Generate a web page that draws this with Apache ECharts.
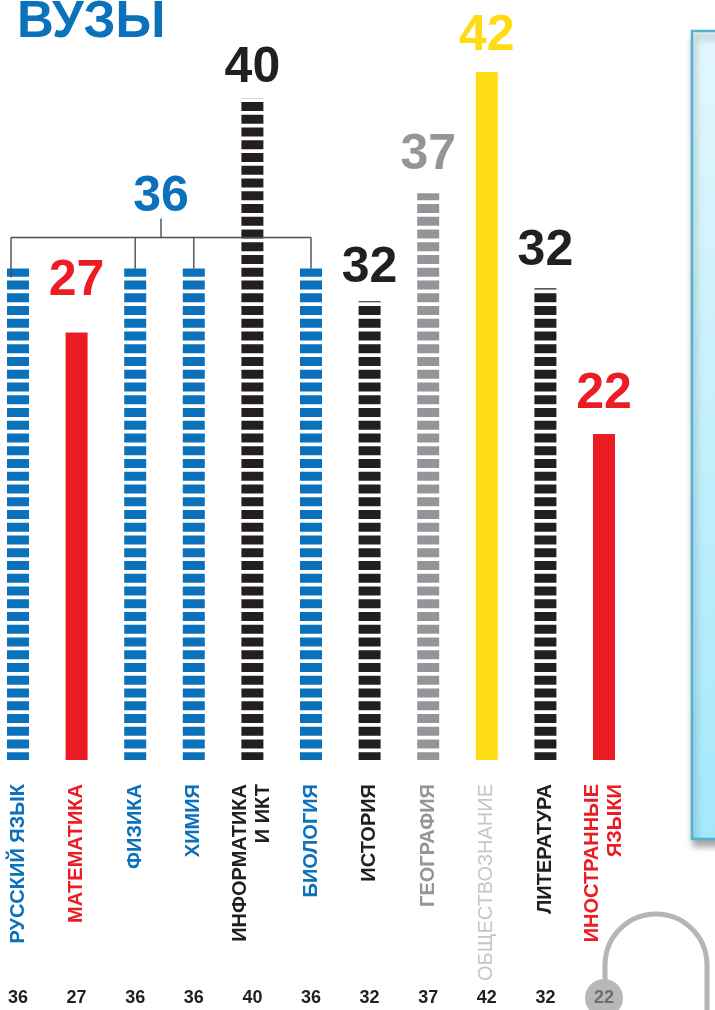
<!DOCTYPE html>
<html>
<head>
<meta charset="utf-8">
<title>ВУЗЫ</title>
<script src="https://cdn.jsdelivr.net/npm/echarts@6/dist/echarts.min.js"></script>
<style>
  html, body { margin: 0; padding: 0; background: #fff; }
  #chart { width: 715px; height: 1010px; }
</style>
</head>
<body>
<div id="chart"></div>
<script>
// subjects, as printed under the bars
const subjects = ['РУССКИЙ ЯЗЫК', 'МАТЕМАТИКА', 'ФИЗИКА', 'ХИМИЯ', 'ИНФОРМАТИКА\nИ ИКТ', 'БИОЛОГИЯ',
  'ИСТОРИЯ', 'ГЕОГРАФИЯ', 'ОБЩЕСТВОЗНАНИЕ', 'ЛИТЕРАТУРА', 'ИНОСТРАННЫЕ\nЯЗЫКИ'];
// minimum scores printed on the chart
const scores = [36, 27, 36, 36, 40, 36, 32, 37, 42, 32, 22];
// bar length as drawn (the infographic is not to scale)
const barLengths = [30, 26.1, 30, 30, 40.4, 30, 28, 34.6, 42, 28.8, 19.9];
// bars sharing one bracketed score
const groupIdx = [0, 2, 3, 5];
const groupScore = 36;
// score in the grey circle
const circledIdx = 10;

const FONT = '"Liberation Sans", Arial, sans-serif';
const BLUE = '#0a71ba', RED = '#ec1c24', BLACK = '#231f20', GREY = '#939598', LIGHT = '#c3c5c7', YELLOW = '#ffdb14';
const kind = ['blue', 'red', 'blue', 'blue', 'black', 'blue', 'black', 'grey', 'yellow', 'black', 'red'];
const colorOf = { blue: BLUE, red: RED, black: BLACK, grey: GREY, yellow: YELLOW };
const striped = { blue: true, black: true, grey: true, red: false, yellow: false };
// gap between a bar and its score (px)
const labelGap = [0, 26, 0, 0, 5, 0, 8, 13, 11, 12, 15];

function stripes(color) {
  const c = document.createElement('canvas');
  c.width = 8;
  c.height = 51;
  const g = c.getContext('2d');
  g.fillStyle = color;
  for (let k = 0; k < 4; k++) g.fillRect(0, k * 12.75, 8, 9);
  return { image: c, repeat: 'repeat' };
}

const barData = barLengths.map((v, i) => {
  const col = colorOf[kind[i]];
  return {
    value: v,
    itemStyle: { color: striped[kind[i]] ? stripes(col) : col },
    label: {
      show: !groupIdx.includes(i),
      formatter: String(scores[i]),
      color: col,
      distance: labelGap[i]
    }
  };
});

const catData = subjects.map((s, i) => ({
  value: s,
  textStyle: {
    color: i === 8 ? LIGHT : colorOf[kind[i]],
    fontWeight: i === 8 ? 'normal' : 'bold'
  }
}));

const chart = echarts.init(document.getElementById('chart'));

chart.setOption({
  animation: false,
  title: {
    text: 'ВУЗЫ', left: 12, top: -8,
    textStyle: { color: BLUE, fontSize: 51, fontWeight: 'bold', fontFamily: FONT }
  },
  grid: { left: 18, right: 111, top: 72, bottom: 250, outerBoundsMode: 'none' },
  xAxis: [{
    type: 'category',
    data: catData,
    boundaryGap: false,
    axisLine: { show: false },
    axisTick: { show: false },
    axisLabel: {
      interval: 0, rotate: 90, margin: 24,
      fontSize: 20, lineHeight: 23, fontFamily: FONT
    }
  }, {
    type: 'category',
    data: scores.map(String),
    position: 'bottom',
    boundaryGap: false,
    axisLine: { show: false },
    axisTick: { show: false },
    axisLabel: {
      interval: 0, margin: 219,
      formatter: (v, i) => (i === circledIdx ? '{c|' + v + '}' : '{n|' + v + '}'),
      rich: {
        n: { fontSize: 18, fontWeight: 'bold', color: BLACK, fontFamily: FONT, height: 38, lineHeight: 38, align: 'center' },
        c: { fontSize: 18, fontWeight: 'bold', color: '#6d6e71', fontFamily: FONT, backgroundColor: '#b7b8ba',
          borderRadius: 19, width: 38, height: 38, lineHeight: 38, align: 'center' }
      }
    }
  }],
  yAxis: { type: 'value', min: 0, max: 42, show: false },
  graphic: [{
    type: 'rect',
    shape: { x: 692, y: 31, width: 40, height: 808 },
    style: {
      fill: new echarts.graphic.LinearGradient(0, 0, 0, 1, [
        { offset: 0, color: '#e3f7fd' },
        { offset: 1, color: '#a4e8fb' }
      ]),
      stroke: '#52b3cf', lineWidth: 2.5,
      shadowBlur: 7, shadowOffsetX: 2, shadowOffsetY: 6, shadowColor: 'rgba(0,0,0,0.35)'
    },
    z: 0
  }, {
    type: 'polyline',
    shape: { points: [[605, 980], [605, 965]] },
    style: { stroke: '#b3b5b8', lineWidth: 5, fill: null },
    z: 0
  }, {
    type: 'arc',
    shape: { cx: 656, cy: 965, r: 51, startAngle: Math.PI, endAngle: 2 * Math.PI, clockwise: true },
    style: { stroke: '#b3b5b8', lineWidth: 5, fill: null },
    z: 0
  }, {
    type: 'polyline',
    shape: { points: [[707, 965], [707, 1012]] },
    style: { stroke: '#b3b5b8', lineWidth: 5, fill: null },
    z: 0
  }],
  series: [{
    type: 'bar',
    data: barData,
    barWidth: 22,
    label: {
      position: 'top', fontSize: 50, fontWeight: 'bold', fontFamily: FONT
    }
  }, {
    type: 'custom',
    coordinateSystem: 'cartesian2d',
    data: [[0, 0]],
    silent: true,
    z: 5,
    renderItem(params, api) {
      const pts = groupIdx.map(i => api.coord([i, barLengths[i]]));
      const topY = Math.min(...pts.map(p => p[1]));
      const yBar = topY - 31;
      const yStem = yBar - 19;
      const x0 = pts[0][0] - 7;
      const x1 = pts[pts.length - 1][0];
      const xm = (x0 + x1) / 2;
      const ls = { stroke: '#4d4d4f', lineWidth: 1.4 };
      const children = [
        { type: 'line', shape: { x1: x0, y1: yBar, x2: x1, y2: yBar }, style: ls },
        { type: 'line', shape: { x1: xm, y1: yBar, x2: xm, y2: yStem }, style: ls }
      ];
      pts.forEach((p, k) => {
        const x = k === 0 ? x0 : p[0];
        children.push({ type: 'line', shape: { x1: x, y1: yBar, x2: x, y2: p[1] + (k === 0 ? 9 : 0) }, style: ls });
      });
      children.push({
        type: 'text', x: xm, y: yStem + 4,
        style: {
          text: String(groupScore), fill: BLUE, font: 'bold 50px ' + FONT,
          align: 'center', verticalAlign: 'bottom'
        }
      });
      return { type: 'group', children };
    }
  }]
});
</script>
</body>
</html>
